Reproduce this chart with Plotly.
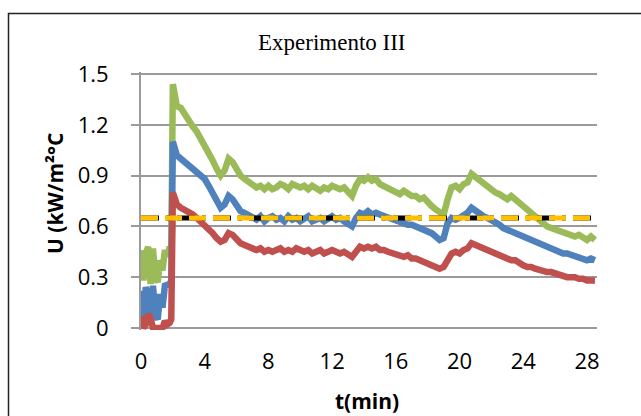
import plotly.graph_objects as go

# ---------------- data ----------------
TIME = [0.0, 0.15, 0.3, 0.45, 0.6, 0.75, 0.9, 1.05, 1.2, 1.35, 1.5, 1.65, 1.8, 1.9, 2.0,
        2.25, 2.5, 2.75, 3.0, 3.25, 3.5, 3.75, 4.0, 4.25, 4.5, 4.75, 5.0,
        5.25, 5.5, 5.75, 6.0, 6.25, 6.5, 6.75, 7.0, 7.25, 7.5, 7.75, 8.0,
        8.25, 8.5, 8.75, 9.0, 9.25, 9.5, 9.75, 10.0, 10.25, 10.5, 10.75, 11.0,
        11.25, 11.5, 11.75, 12.0, 12.25, 12.5, 12.75, 13.0, 13.25, 13.5, 13.75, 14.0,
        14.25, 14.5, 14.75, 15.0, 15.25, 15.5, 15.75, 16.0, 16.25, 16.5, 16.75, 17.0,
        17.25, 17.5, 17.75, 18.0, 18.25, 18.5, 18.75, 19.0, 19.25, 19.5, 19.75, 20.0,
        20.25, 20.5, 20.75, 21.0, 21.25, 21.5, 21.75, 22.0, 22.25, 22.5, 22.75, 23.0,
        23.25, 23.5, 23.75, 24.0, 24.25, 24.5, 24.75, 25.0, 25.25, 25.5, 25.75, 26.0,
        26.25, 26.5, 26.75, 27.0, 27.25, 27.5, 27.75, 28.0, 28.25, 28.5]

U_GREEN = [0.46, 0.28, 0.44, 0.48, 0.26, 0.47, 0.30, 0.27, 0.40, 0.34, 0.46, 0.42, 0.48, 0.45, 1.44,
           1.31, 1.30, 1.26, 1.23, 1.19, 1.16, 1.12, 1.08, 1.04, 0.99, 0.94, 0.90,
           0.93, 1.00, 0.98, 0.94, 0.90, 0.88, 0.86, 0.85, 0.83, 0.84, 0.82, 0.84,
           0.82, 0.83, 0.85, 0.84, 0.82, 0.85, 0.84, 0.83, 0.84, 0.82, 0.84, 0.83,
           0.81, 0.83, 0.82, 0.84, 0.83, 0.82, 0.83, 0.81, 0.78, 0.84, 0.88, 0.87,
           0.89, 0.87, 0.88, 0.85, 0.84, 0.83, 0.82, 0.80, 0.79, 0.81, 0.79, 0.78,
           0.78, 0.76, 0.77, 0.74, 0.72, 0.70, 0.68, 0.67, 0.76, 0.83, 0.84, 0.82,
           0.85, 0.86, 0.91, 0.89, 0.87, 0.86, 0.84, 0.82, 0.80, 0.79, 0.77, 0.76,
           0.78, 0.76, 0.73, 0.71, 0.69, 0.68, 0.66, 0.63, 0.62, 0.60, 0.59, 0.58,
           0.57, 0.56, 0.56, 0.55, 0.54, 0.55, 0.53, 0.52, 0.54, 0.52]

U_BLUE = [0.22, 0.06, 0.24, 0.20, 0.04, 0.25, 0.08, 0.05, 0.20, 0.12, 0.25, 0.26, 0.26, 0.28, 1.10,
          1.02, 1.00, 0.98, 0.97, 0.94, 0.92, 0.90, 0.88, 0.84, 0.80, 0.76, 0.71,
          0.73, 0.78, 0.76, 0.72, 0.69, 0.68, 0.67, 0.65, 0.64, 0.66, 0.63, 0.65,
          0.66, 0.64, 0.65, 0.63, 0.66, 0.64, 0.65, 0.63, 0.64, 0.66, 0.63, 0.64,
          0.65, 0.63, 0.64, 0.66, 0.64, 0.65, 0.63, 0.62, 0.60, 0.65, 0.68, 0.67,
          0.69, 0.67, 0.68, 0.67, 0.66, 0.66, 0.64, 0.63, 0.63, 0.62, 0.61, 0.61,
          0.60, 0.59, 0.59, 0.57, 0.56, 0.54, 0.52, 0.53, 0.62, 0.65, 0.64, 0.65,
          0.66, 0.68, 0.71, 0.69, 0.68, 0.66, 0.65, 0.64, 0.62, 0.61, 0.59, 0.58,
          0.57, 0.56, 0.54, 0.53, 0.52, 0.51, 0.50, 0.49, 0.48, 0.47, 0.46, 0.46,
          0.45, 0.44, 0.44, 0.43, 0.42, 0.42, 0.41, 0.40, 0.41, 0.40]

U_RED = [0.07, 0.00, 0.02, 0.08, 0.06, 0.00, 0.00, 0.00, 0.00, 0.00, 0.04, 0.02, 0.03, 0.05, 0.80,
         0.73, 0.71, 0.70, 0.69, 0.67, 0.65, 0.63, 0.61, 0.59, 0.56, 0.53, 0.51,
         0.52, 0.56, 0.55, 0.52, 0.50, 0.49, 0.48, 0.47, 0.46, 0.47, 0.45, 0.46,
         0.45, 0.46, 0.47, 0.45, 0.46, 0.45, 0.47, 0.46, 0.45, 0.46, 0.44, 0.45,
         0.46, 0.44, 0.45, 0.46, 0.45, 0.44, 0.45, 0.44, 0.42, 0.45, 0.48, 0.47,
         0.48, 0.47, 0.48, 0.46, 0.46, 0.45, 0.44, 0.43, 0.43, 0.42, 0.43, 0.41,
         0.41, 0.40, 0.40, 0.39, 0.38, 0.37, 0.35, 0.36, 0.41, 0.44, 0.45, 0.44,
         0.46, 0.47, 0.50, 0.49, 0.48, 0.46, 0.45, 0.44, 0.43, 0.42, 0.42, 0.41,
         0.40, 0.40, 0.38, 0.37, 0.36, 0.36, 0.35, 0.34, 0.34, 0.33, 0.33, 0.32,
         0.31, 0.31, 0.30, 0.30, 0.30, 0.29, 0.29, 0.28, 0.28, 0.28]

REF_TIME = [0.0, 28.5]
U_REF_BLACK = [0.65, 0.65]
U_REF_YELLOW = [0.65, 0.65]

X_TICKS = [0, 4, 8, 12, 16, 20, 24, 28]
X_TICK_TEXT = ["0", "4", "8", "12", "16", "20", "24", "28"]
Y_TICKS = [0, 0.3, 0.6, 0.9, 1.2, 1.5]
Y_TICK_TEXT = ["0", "0.3", "0.6", "0.9", "1.2", "1.5"]

TITLE = "Experimento III"
X_TITLE = "t(min)"
Y_TITLE = "U (kW/m²°C"

# ---------------- layout geometry ----------------
W, H = 641, 416
L, R, T, B = 141, 44, 72, 86
PW, PH = W - L - R, H - T - B


def px_x(x):
    return (x - L) / PW


def px_y(y):
    return (H - B - y) / PH


fig = go.Figure()
fig.add_trace(go.Scatter(x=TIME, y=U_GREEN, mode="lines",
                         line=dict(color="#9BBB59", width=6.5), showlegend=False))
fig.add_trace(go.Scatter(x=TIME, y=U_BLUE, mode="lines",
                         line=dict(color="#4F81BD", width=6.5), showlegend=False))
fig.add_trace(go.Scatter(x=TIME, y=U_RED, mode="lines",
                         line=dict(color="#C0504D", width=6.5), showlegend=False))
fig.add_trace(go.Scatter(x=REF_TIME, y=U_REF_BLACK, mode="lines",
                         line=dict(color="#000000", width=5, dash="18px,7px,4px,7px"),
                         showlegend=False))
fig.add_trace(go.Scatter(x=REF_TIME, y=U_REF_YELLOW, mode="lines",
                         line=dict(color="#FFC000", width=5, dash="17px,7px"),
                         showlegend=False))

tick_font = dict(family="Open Sans", size=22, color="#000000")

fig.update_layout(
    width=W, height=H,
    margin=dict(l=L, r=R, t=T, b=B, pad=0),
    paper_bgcolor="white", plot_bgcolor="white",
    xaxis=dict(range=[0, 28.63], tickvals=X_TICKS, ticktext=X_TICK_TEXT,
               showgrid=False, zeroline=False, showline=False, ticks="",
               tickfont=tick_font, ticklabelstandoff=16),
    yaxis=dict(range=[-0.012, 1.512], tickvals=Y_TICKS, ticktext=Y_TICK_TEXT,
               showgrid=True, gridcolor="#9A9A9A", gridwidth=2, zeroline=False,
               showline=True, linecolor="#9A9A9A", linewidth=2,
               ticks="outside", ticklen=8, tickwidth=2, tickcolor="#9A9A9A",
               tickfont=tick_font, ticklabelstandoff=18),
    shapes=[dict(type="rect", xref="paper", yref="paper",
                 x0=px_x(8.5), x1=px_x(700), y0=px_y(500), y1=px_y(13.5),
                 line=dict(color="#222222", width=1.5), fillcolor="rgba(0,0,0,0)",
                 layer="below")],
    annotations=[
        dict(text=TITLE, xref="paper", yref="paper", x=px_x(332), y=px_y(42),
             showarrow=False, xanchor="center", yanchor="middle",
             font=dict(family="Liberation Serif", size=23, color="#000000")),
        dict(text=X_TITLE, xref="paper", yref="paper", x=px_x(367), y=px_y(401),
             showarrow=False, xanchor="center", yanchor="middle",
             font=dict(family="Open Sans", size=21, color="#000000", weight="bold")),
        dict(text=Y_TITLE, xref="paper", yref="paper", x=px_x(55), y=px_y(194),
             showarrow=False, xanchor="center", yanchor="middle", textangle=-90,
             font=dict(family="Open Sans", size=21, color="#000000", weight="bold")),
    ],
)

fig.write_html("out.html")
